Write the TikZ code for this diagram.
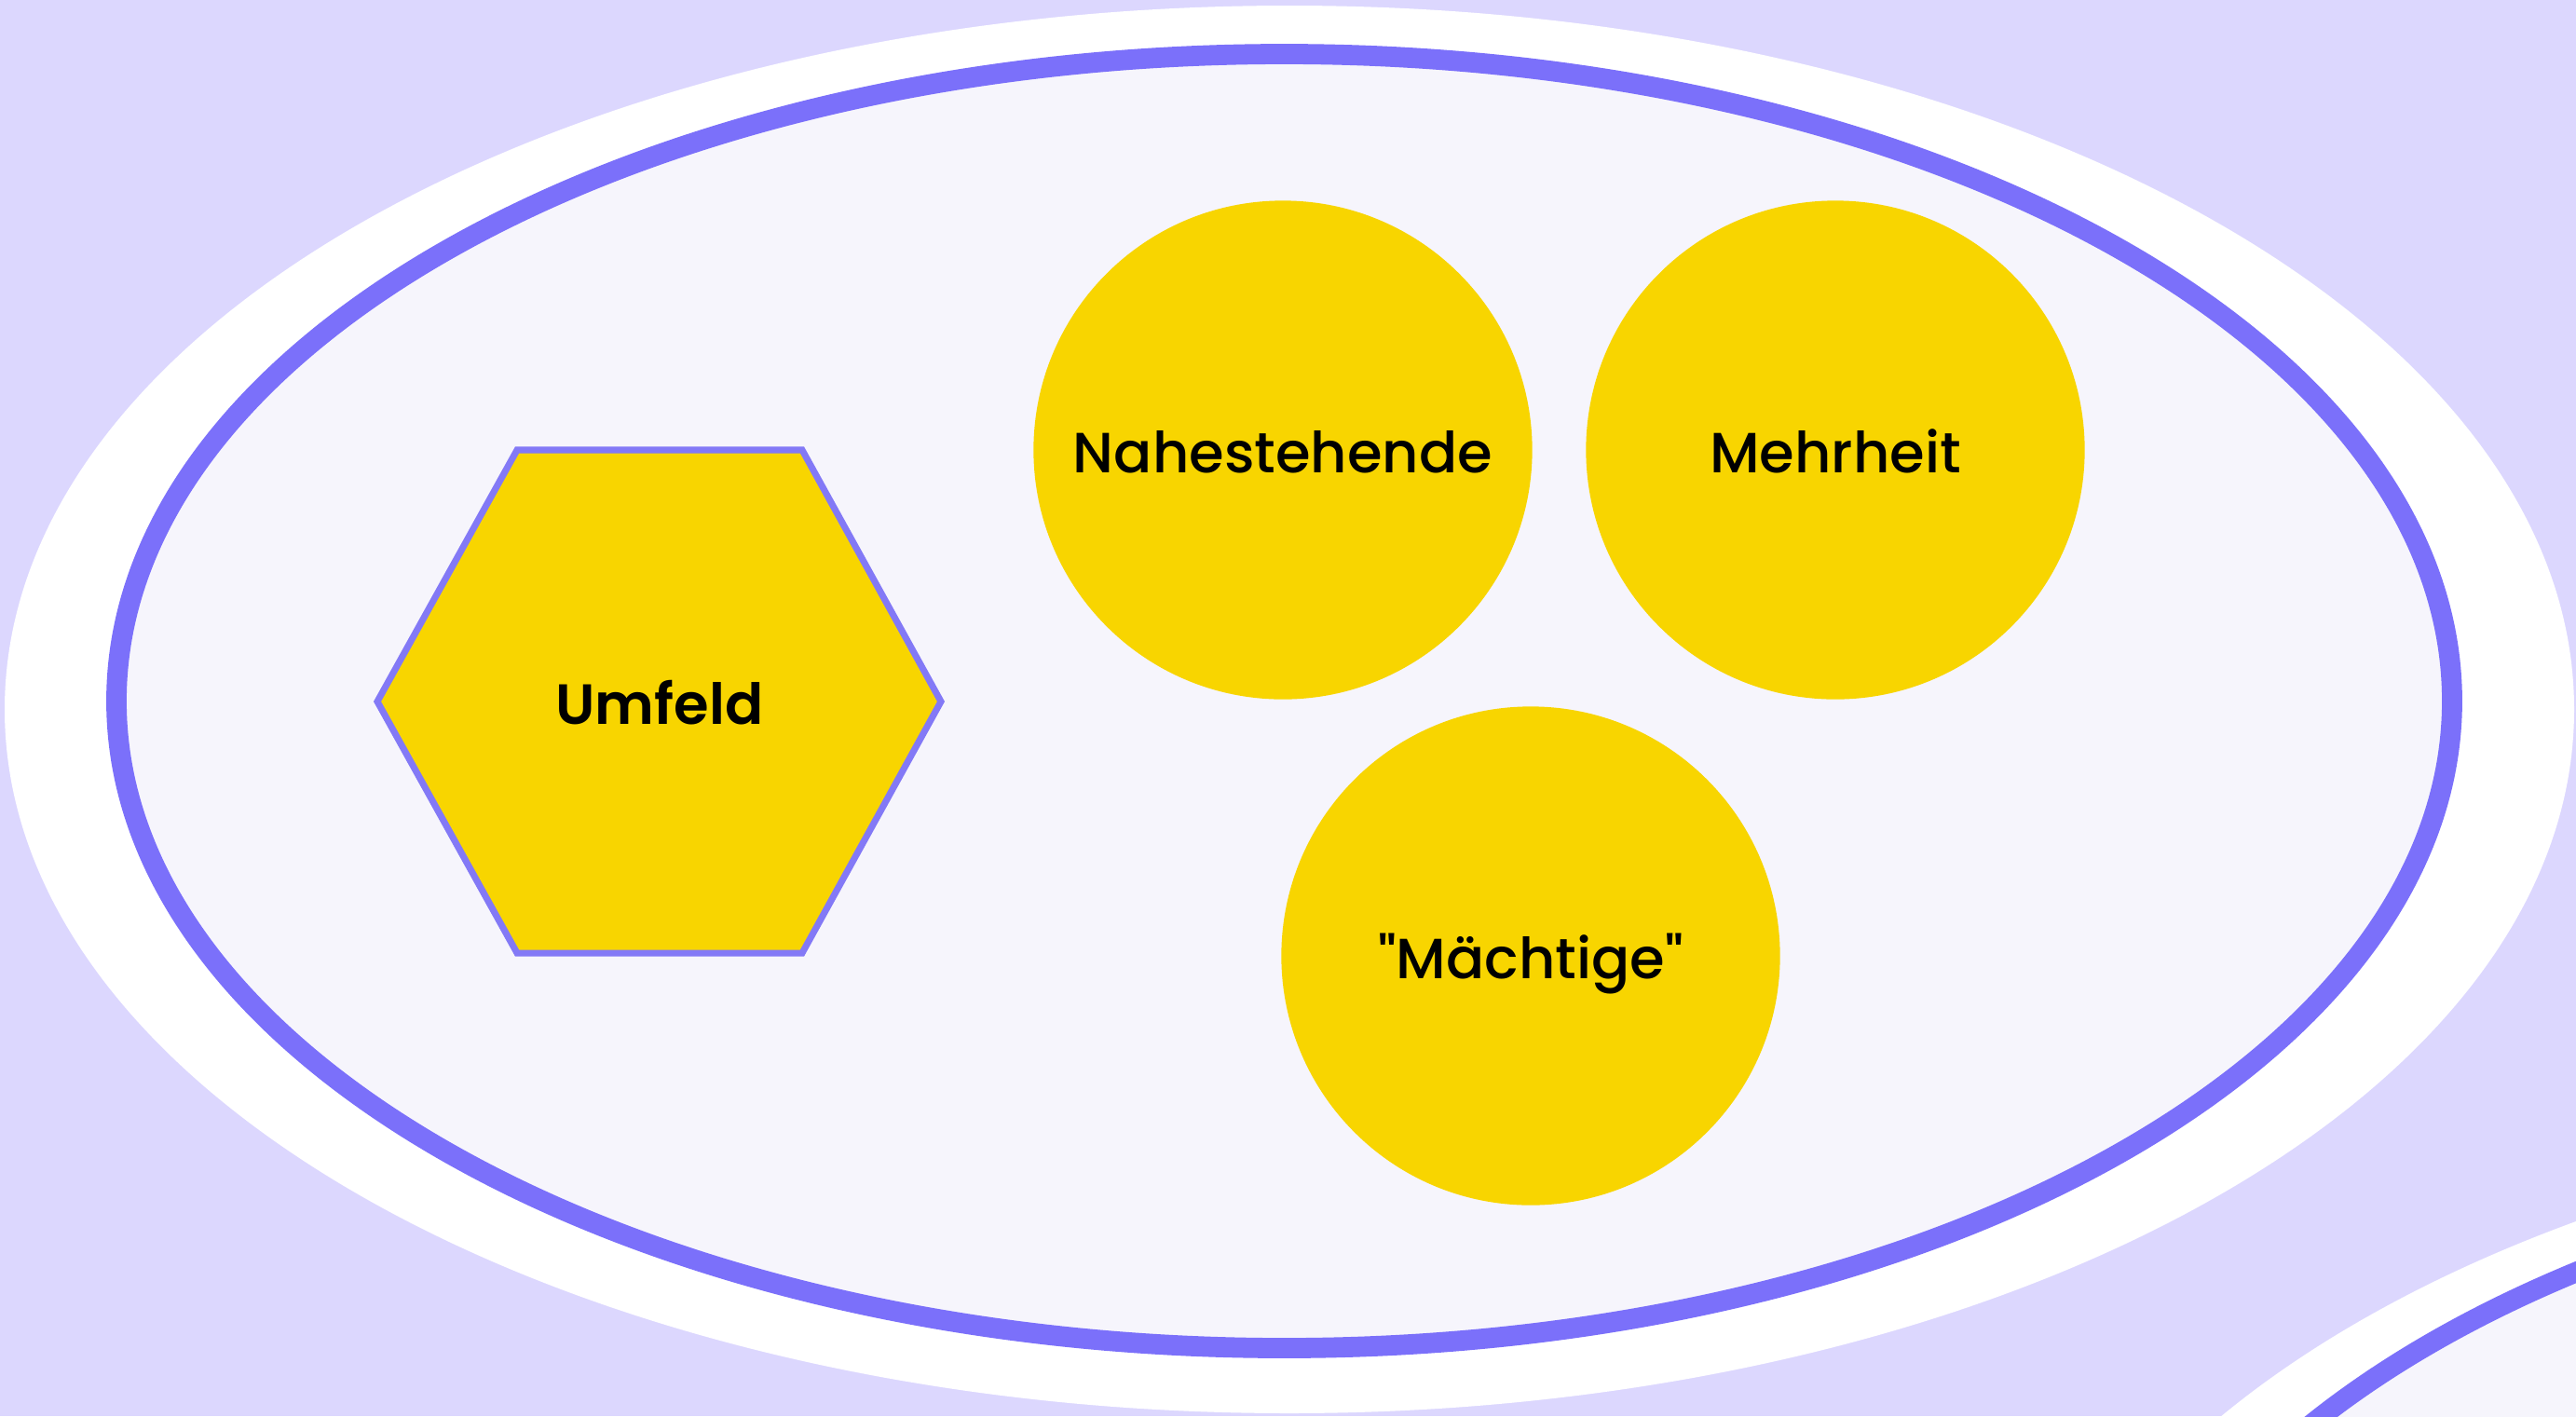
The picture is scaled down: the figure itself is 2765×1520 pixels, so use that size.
\documentclass[tikz,border=0pt]{standalone}
\usepackage{fontspec}
\setmainfont{Poppins}[UprightFont=* Medium, BoldFont=* SemiBold]
\definecolor{lav}{HTML}{DCD7FE}
\definecolor{ring}{HTML}{7B70FA}
\definecolor{hexring}{HTML}{8379F6}
\definecolor{inner}{HTML}{F6F5FC}
\definecolor{sun}{HTML}{F8D500}
\tikzset{
  ringfill/.style={fill=inner, draw=ring, line width=6.2pt},
  label box/.style={text=black, text height=0.49cm, text depth=0pt},
  bubble/.style={circle, fill=sun, draw=none, inner sep=0pt,
    minimum size=5.35cm, label box, font=\fontsize{17.3}{20}\selectfont},
  hexfill/.style={fill=sun, draw=hexring, line width=2pt, line join=miter},
  hexlabel/.style={label box, inner sep=0pt, font=\fontsize{17.3}{20}\selectfont\bfseries}
}
\begin{document}
\begin{tikzpicture}[x=0.01cm, y=-0.01cm]
  \path[use as bounding box] (0,0) rectangle (2765,1520);
  \clip (0,0) rectangle (2765,1520);
  \fill[lav] (0,0) rectangle (2765,1520);

  % neighbouring group, only its corner shows
  \fill[white] (3520,1932) ellipse [x radius=1362, y radius=746];
  \path[ringfill] (3514,1923) ellipse [x radius=1254, y radius=695];

  % main group
  \fill[white] (1384,761.5) ellipse [x radius=1379, y radius=755.5];
  \path[ringfill] (1378.5,752.5) ellipse [x radius=1253.5, y radius=694.5];

  % hexagon
  \path[hexfill] (405,753) -- (555,483) -- (861,483) -- (1010,753)
    -- (861,1023) -- (555,1023) -- cycle;
  \node[hexlabel] (umfeld) at (708,753) {Umfeld};

  % circles
  \node[bubble] (nah) at (1377,483) {Nahestehende};
  \node[bubble] (mehr) at (1970,483) {Mehrheit};
  \node[bubble] (macht) at (1643,1026) {\textquotedbl Mächtige\textquotedbl};
\end{tikzpicture}
\end{document}
